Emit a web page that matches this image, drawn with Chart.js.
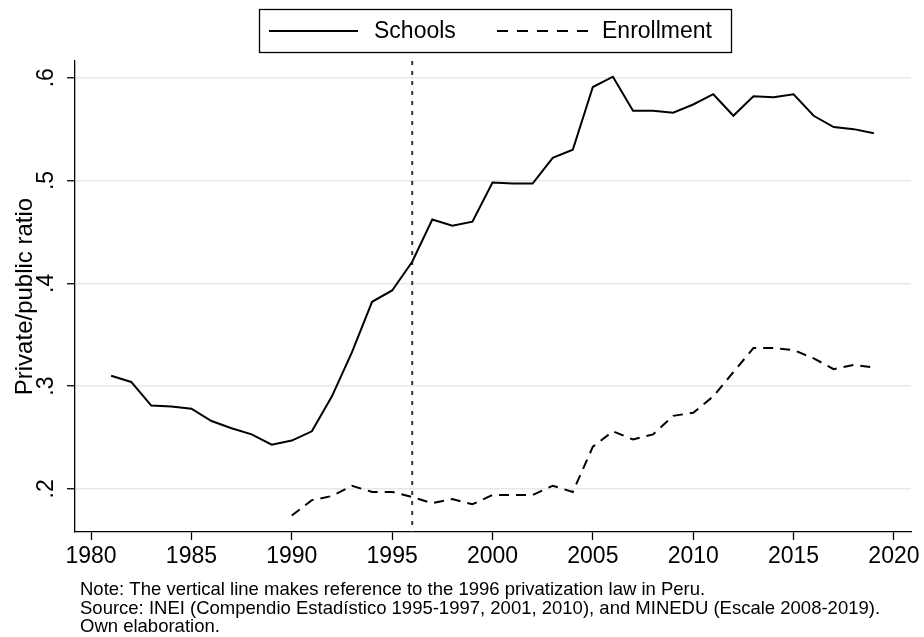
<!DOCTYPE html>
<html>
<head>
<meta charset="utf-8">
<title>Private/public ratio</title>
<script src="https://cdn.jsdelivr.net/npm/chart.js@4/dist/chart.umd.min.js"></script>
<style>
    html, body { margin: 0; padding: 0; background: #ffffff; }
    canvas { display: block; }
</style>
</head>
<body>
<canvas id="ratioChart" width="924" height="637"></canvas>

<script>

// ================= DATA =================

const schoolYears = [1981, 1982, 1983, 1984, 1985, 1986, 1987, 1988, 1989, 1990,
                     1991, 1992, 1993, 1994, 1995, 1996, 1997, 1998, 1999, 2000,
                     2001, 2002, 2003, 2004, 2005, 2006, 2007, 2008, 2009, 2010,
                     2011, 2012, 2013, 2014, 2015, 2016, 2017, 2018, 2019];

const schoolsRatio = [0.310, 0.304, 0.281, 0.280, 0.278, 0.266, 0.259, 0.253, 0.243, 0.247,
                      0.256, 0.290, 0.333, 0.382, 0.393, 0.421, 0.462, 0.456, 0.460, 0.498,
                      0.497, 0.497, 0.522, 0.530, 0.591, 0.601, 0.568, 0.568, 0.566, 0.574,
                      0.584, 0.563, 0.582, 0.581, 0.584, 0.563, 0.552, 0.550, 0.546];

const enrollYears = [1990, 1991, 1992, 1993, 1994, 1995, 1996, 1997, 1998, 1999,
                     2000, 2001, 2002, 2003, 2004, 2005, 2006, 2007, 2008, 2009,
                     2010, 2011, 2012, 2013, 2014, 2015, 2016, 2017, 2018, 2019];

const enrollRatio = [0.174, 0.189, 0.193, 0.203, 0.197, 0.197, 0.192, 0.186, 0.190, 0.185,
                     0.194, 0.194, 0.194, 0.203, 0.197, 0.241, 0.256, 0.248, 0.253, 0.271,
                     0.274, 0.290, 0.3135, 0.337, 0.337, 0.335, 0.327, 0.3165, 0.3205, 0.318];

const xTicks = [1980, 1985, 1990, 1995, 2000, 2005, 2010, 2015, 2020];
const yTicks = [0.2, 0.3, 0.4, 0.5, 0.6];
const yTickLabels = ['.2', '.3', '.4', '.5', '.6'];

const lawYear = 1996;

const seriesLabels = ['Schools', 'Enrollment'];

const noteLines = [
    'Note: The vertical line makes reference to the 1996 privatization law in Peru.',
    'Source: INEI (Compendio Estadístico 1995-1997, 2001, 2010), and MINEDU (Escale 2008-2019).',
    'Own elaboration.'
];

const FONT = '"Liberation Sans", Arial, sans-serif';
const ENROLL_DASH = [10, 7];
const LEGEND_DASH = [11, 9];


function toPoints(xs, ys){
    return xs.map((x, i) => ({ x: x, y: ys[i] }));
}


// ================= EXTRA DRAWING =================

// dashed marker for the privatization law year
const lawLine = {
    id: 'lawLine',
    beforeDatasetsDraw(chart){
        const ctx = chart.ctx;
        const x = chart.scales.x.getPixelForValue(lawYear);
        const area = chart.chartArea;
        ctx.save();
        ctx.strokeStyle = '#333333';
        ctx.lineWidth = 2;
        ctx.setLineDash([4, 6]);
        ctx.beginPath();
        ctx.moveTo(x, area.top);
        ctx.lineTo(x, area.bottom);
        ctx.stroke();
        ctx.restore();
    }
};

// rotated y tick labels, axis title, boxed legend and notes
const decorations = {
    id: 'decorations',
    afterDraw(chart){
        const ctx = chart.ctx;
        const yScale = chart.scales.y;
        const area = chart.chartArea;

        ctx.save();
        ctx.fillStyle = '#000000';

        // y tick labels, reading upwards
        ctx.font = '23px ' + FONT;
        ctx.textAlign = 'center';
        ctx.textBaseline = 'alphabetic';
        yTicks.forEach((v, i) => {
            const y = yScale.getPixelForValue(v);
            ctx.save();
            ctx.translate(53, y);
            ctx.rotate(-Math.PI / 2);
            ctx.fillText(yTickLabels[i], 0, 0);
            ctx.restore();
        });

        // y axis title, centred on the plot area
        ctx.save();
        ctx.font = '24px ' + FONT;
        ctx.translate(32, (area.top + area.bottom) / 2);
        ctx.rotate(-Math.PI / 2);
        ctx.fillText('Private/public ratio', 0, 0);
        ctx.restore();

        // legend box
        ctx.font = '23px ' + FONT;
        ctx.strokeStyle = '#000000';
        ctx.lineWidth = 1.3;
        ctx.strokeRect(259.5, 9.5, 472, 43);

        ctx.lineWidth = 2;
        ctx.textAlign = 'left';
        ctx.textBaseline = 'alphabetic';

        ctx.beginPath();
        ctx.moveTo(269, 31);
        ctx.lineTo(358, 31);
        ctx.stroke();
        ctx.fillText(seriesLabels[0], 374, 38);

        ctx.setLineDash(LEGEND_DASH);
        ctx.beginPath();
        ctx.moveTo(497, 31);
        ctx.lineTo(588, 31);
        ctx.stroke();
        ctx.setLineDash([]);
        ctx.fillText(seriesLabels[1], 602, 38);

        // notes under the chart
        ctx.font = '18.5px ' + FONT;
        noteLines.forEach((line, i) => {
            ctx.fillText(line, 80, 595 + i * 18.5);
        });

        ctx.restore();
    }
};


// ================= CHART =================

function drawChart(){

    const ctx = document.getElementById('ratioChart');

    new Chart(ctx, {
        type: 'line',
        data: {
            datasets: [
                {
                    label: seriesLabels[0],
                    data: toPoints(schoolYears, schoolsRatio),
                    borderColor: '#000000',
                    borderWidth: 2,
                    pointRadius: 0,
                    tension: 0,
                    fill: false
                },
                {
                    label: seriesLabels[1],
                    data: toPoints(enrollYears, enrollRatio),
                    borderColor: '#000000',
                    borderWidth: 2,
                    borderDash: ENROLL_DASH,
                    pointRadius: 0,
                    tension: 0,
                    fill: false
                }
            ]
        },
        options: {
            responsive: false,
            animation: false,
            devicePixelRatio: 1,
            layout: {
                padding: { top: 61, right: 13, left: 0, bottom: 0 }
            },
            plugins: {
                legend: { display: false },
                tooltip: { enabled: false }
            },
            scales: {
                x: {
                    type: 'linear',
                    position: 'bottom',
                    min: 1979.2,
                    max: 2020.85,
                    afterBuildTicks: (scale) => {
                        scale.ticks = xTicks.map(v => ({ value: v }));
                    },
                    afterFit: (scale) => { scale.height = 105; },
                    grid: {
                        drawOnChartArea: false,
                        drawTicks: true,
                        tickLength: 8,
                        tickColor: '#000000',
                        tickWidth: 1.3
                    },
                    border: { display: true, color: '#000000', width: 1.3 },
                    ticks: {
                        color: '#000000',
                        font: { family: FONT, size: 23 },
                        padding: 3,
                        maxRotation: 0,
                        callback: (v) => String(v)
                    }
                },
                y: {
                    type: 'linear',
                    min: 0.158,
                    max: 0.6163,
                    afterBuildTicks: (scale) => {
                        scale.ticks = yTicks.map(v => ({ value: v }));
                    },
                    afterFit: (scale) => { scale.width = 75; },
                    grid: {
                        color: '#e8e8e8',
                        lineWidth: 1.5,
                        drawTicks: true,
                        tickLength: 8,
                        tickColor: '#000000',
                        tickWidth: 1.3
                    },
                    border: { display: true, color: '#000000', width: 1.3 },
                    ticks: { display: false }
                }
            }
        },
        plugins: [lawLine, decorations]
    });
}


// ================= RUN ON PAGE LOAD =================

document.addEventListener('DOMContentLoaded', function(){
    drawChart();
});

</script>
</body>
</html>
